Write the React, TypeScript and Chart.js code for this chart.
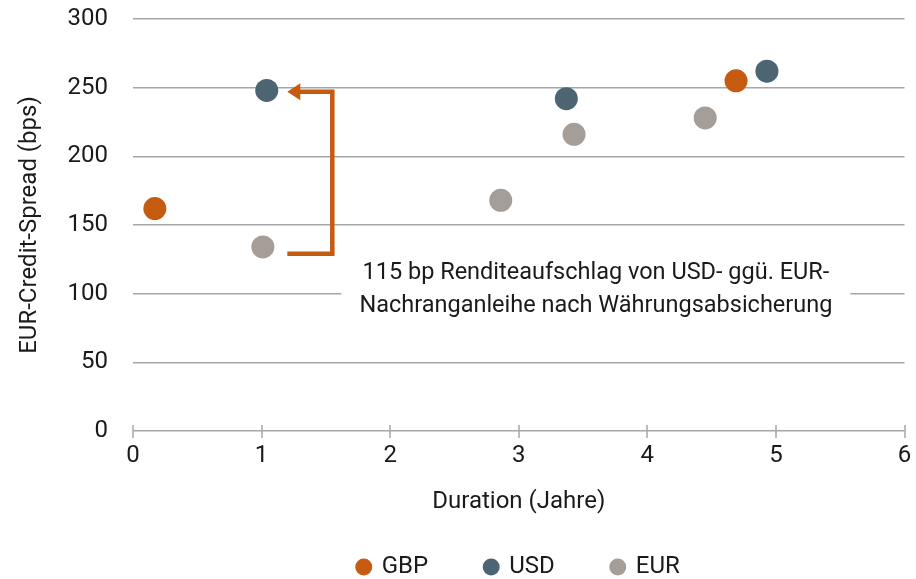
import React, { useEffect, useRef } from "react";
import { Chart, registerables } from "chart.js";

Chart.register(...registerables);

const seriesNames = ["GBP", "USD", "EUR"];
const seriesColors = ["#C55A11", "#4D6572", "#A59D97"];
const gbpPoints = [
  { x: 0.17, y: 162 },
  { x: 4.69, y: 255 },
];
const usdPoints = [
  { x: 1.04, y: 248 },
  { x: 3.37, y: 242 },
  { x: 4.93, y: 262 },
];
const eurPoints = [
  { x: 1.01, y: 134 },
  { x: 2.86, y: 168 },
  { x: 3.43, y: 216 },
  { x: 4.45, y: 228 },
];
const xTitle = "Duration (Jahre)";
const yTitle = "EUR-Credit-Spread (bps)";
const annotationLines = [
  "115 bp Renditeaufschlag von USD- ggü. EUR-",
  "Nachranganleihe nach Währungsabsicherung",
];
// bracket in data coords: from EUR(1) level to USD(1) level
const bracketFrom = { x: 1.2, y: 129 };
const bracketTo = { x: 1.2, y: 247 };
const bracketX = 1.55;
const labelCenter = { x: 3.6, y: 103 };

const FONT = "Roboto, 'Noto Sans', sans-serif";
const FS = 24;

const annotationPlugin = {
  id: "bracketAnnotation",
  afterDatasetsDraw(chart: any) {
    const { ctx, scales } = chart;
    const xs = scales.x;
    const ys = scales.y;
    ctx.save();
    // x axis tick marks crossing axis line
    const y0 = ys.getPixelForValue(0);
    ctx.strokeStyle = "#A6A6A6";
    ctx.lineWidth = 1.5;
    xs.ticks.forEach((t: any) => {
      const px = Math.round(xs.getPixelForValue(t.value));
      ctx.beginPath();
      ctx.moveTo(px, y0 - 6);
      ctx.lineTo(px, y0 + 7);
      ctx.stroke();
    });

    // bracket
    const x1 = xs.getPixelForValue(bracketFrom.x);
    const yA = ys.getPixelForValue(bracketFrom.y);
    const xb = xs.getPixelForValue(bracketX);
    const yB = ys.getPixelForValue(bracketTo.y);
    const xt = xs.getPixelForValue(bracketTo.x);
    ctx.strokeStyle = "#C55A11";
    ctx.fillStyle = "#C55A11";
    ctx.lineWidth = 4.5;
    ctx.lineJoin = "miter";
    ctx.beginPath();
    ctx.moveTo(x1, yA);
    ctx.lineTo(xb, yA);
    ctx.lineTo(xb, yB);
    ctx.lineTo(xt + 10, yB);
    ctx.stroke();
    ctx.beginPath();
    ctx.moveTo(xt, yB);
    ctx.lineTo(xt + 13, yB - 8.5);
    ctx.lineTo(xt + 13, yB + 8.5);
    ctx.closePath();
    ctx.fill();

    // label
    const cx = xs.getPixelForValue(labelCenter.x);
    const cy = ys.getPixelForValue(labelCenter.y);
    ctx.font = `23.5px ${FONT}`;
    const w = Math.max(...annotationLines.map((l) => ctx.measureText(l).width));
    const lh = 33;
    const boxW = w + 36;
    const boxH = lh * annotationLines.length + 4;
    ctx.fillStyle = "#ffffff";
    ctx.fillRect(cx - boxW / 2, cy - boxH / 2, boxW, boxH);
    ctx.fillStyle = "#1a1a1a";
    ctx.textAlign = "center";
    ctx.textBaseline = "middle";
    annotationLines.forEach((l, i) => {
      ctx.fillText(l, cx, cy - ((annotationLines.length - 1) * lh) / 2 + i * lh);
    });
    ctx.restore();
  },
};

export default function App() {
  const ref = useRef<HTMLCanvasElement | null>(null);
  useEffect(() => {
    document.body.style.margin = "0";
    const allData = [gbpPoints, usdPoints, eurPoints];
    const chart = new Chart(ref.current!, {
      type: "scatter",
      data: {
        datasets: seriesNames.map((name, i) => ({
          label: name,
          data: allData[i],
          backgroundColor: seriesColors[i],
          borderColor: seriesColors[i],
          borderWidth: 0,
          pointRadius: 11.5,
          pointHoverRadius: 11.5,
          pointStyle: "circle",
        })),
      },
      options: {
        animation: false,
        responsive: false,
        layout: { padding: { left: 0, right: 8, top: 19, bottom: -10 } },
        scales: {
          x: {
            type: "linear",
            min: 0,
            max: 6,
            afterFit: (s: any) => {
              s.height = 67;
            },
            ticks: {
              stepSize: 1,
              color: "#1a1a1a",
              font: { family: FONT, size: FS },
              padding: 0,
            },
            grid: {
              display: true,
              drawOnChartArea: false,
              drawTicks: true,
              tickLength: 11,
              tickColor: "rgba(0,0,0,0)",
              color: "rgba(0,0,0,0)",
            },
            border: { display: false },
            title: {
              display: true,
              text: xTitle,
              color: "#1a1a1a",
              font: { family: FONT, size: FS },
              padding: { top: 21, bottom: -18.5 },
            },
          },
          y: {
            min: 0,
            max: 300,
            afterFit: (s: any) => {
              s.width = 133;
            },
            ticks: {
              stepSize: 50,
              color: "#1a1a1a",
              font: { family: FONT, size: FS },
              padding: 0,
            },
            grid: {
              color: "#A6A6A6",
              lineWidth: 1.5,
              drawTicks: true,
              tickLength: 25,
              tickColor: "rgba(0,0,0,0)",
            },
            border: { display: false },
            title: {
              display: true,
              text: yTitle,
              color: "#1a1a1a",
              font: { family: FONT, size: FS },
              padding: { top: 16, bottom: 0 },
            },
          },
        },
        plugins: {
          legend: {
            position: "bottom",
            fullSize: false,
            labels: {
              usePointStyle: true,
              pointStyle: "circle",
              boxWidth: 12,
              boxHeight: 12,
              padding: 57,
              color: "#1a1a1a",
              font: { family: FONT, size: FS },
            },
          },
          tooltip: { enabled: false },
        },
      },
      plugins: [annotationPlugin],
    });
    return () => chart.destroy();
  }, []);
  return (
    <div style={{ width: 916, height: 579 }}>
      <canvas ref={ref} width={916} height={579} style={{ display: "block" }} />
    </div>
  );
}
